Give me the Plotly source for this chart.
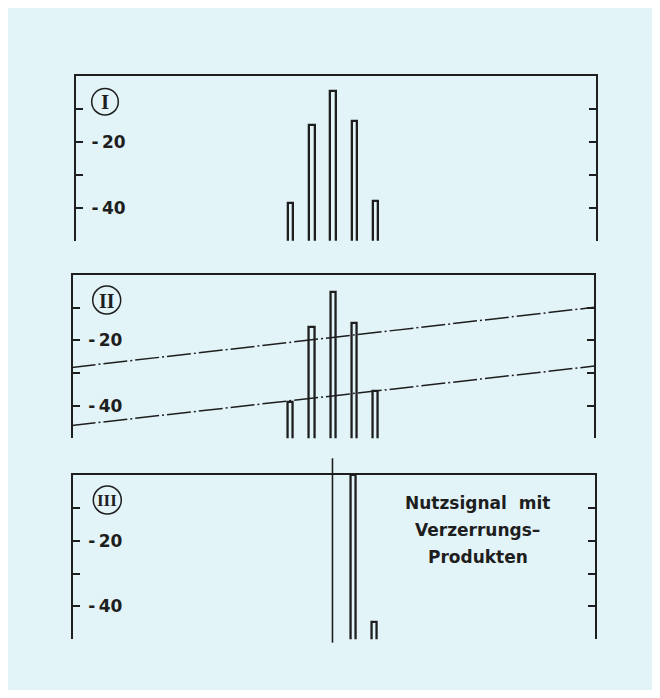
import plotly.graph_objects as go

# The page body adds an 8 px white margin on every side; the figure fills the rest.
OFF = 8
W, H = 660 - 2 * OFF, 698 - 2 * OFF
BG = "#e3f4f9"
INK = "#1e1e1e"

# ---------------- data ----------------
offsets_I = [-2, -1, 0, 1, 2]
levels_I = [-38.5, -15.0, -4.5, -13.7, -38.0]

offsets_II = [-2, -1, 0, 1, 2]
levels_II = [-38.8, -15.8, -5.1, -14.6, -35.5]

offsets_III = [1, 2]
levels_III = [0.0, -44.6]
carrier_III = 0

limit_x = [-12.3, 12.3]
limit_upper = [-28.3, -9.9]
limit_lower = [-46.1, -27.9]

tick_vals = [-10, -20, -30, -40, -50]
tick_text = ["", "-\u200920", "", "-\u200940", ""]
panel_labels = ["I", "II", "III"]
note_lines = ["Nutzsignal  mit", "Verzerrungs\u2013", "Produkten"]

BAR_BASE = -60  # below the visible range so the bars stay open at the bottom


def px_x(x):
    return (x - OFF) / W


def px_y(y):
    return 1 - (y - OFF) / H


# panel geometry in window pixels: (left, right, top, bottom, x-range)
panels = [
    (76.0, 596.0, 76.0, 240.7, [-12.18, 12.46]),
    (72.7, 594.3, 275.0, 438.3, [-12.25, 12.30]),
    (72.7, 595.0, 475.0, 639.3, [-12.37, 12.50]),
]

fig = go.Figure()

bar_sets = [(offsets_I, levels_I), (offsets_II, levels_II), (offsets_III, levels_III)]
for i, (xs, lv) in enumerate(bar_sets):
    n = "" if i == 0 else str(i + 1)
    fig.add_trace(go.Bar(
        x=xs, y=[v - BAR_BASE for v in lv], base=BAR_BASE,
        width=0.25, marker=dict(color=BG, line=dict(color=INK, width=2.3)),
        xaxis="x" + n, yaxis="y" + n, showlegend=False, hoverinfo="skip",
    ))

for ys in (limit_upper, limit_lower):
    fig.add_trace(go.Scatter(
        x=limit_x, y=ys, mode="lines",
        line=dict(color=INK, width=1.5, dash="24px,3px,2px,3px"),
        xaxis="x2", yaxis="y2", showlegend=False, hoverinfo="skip",
    ))

layout = dict(
    width=W, height=H, margin=dict(l=0, r=0, t=0, b=0),
    paper_bgcolor=BG, plot_bgcolor=BG, bargap=0, showlegend=False,
)

for i, (l, r, t, b, xr) in enumerate(panels):
    n = "" if i == 0 else str(i + 1)
    layout["xaxis" + n] = dict(
        domain=[px_x(l), px_x(r)], range=xr, side="top", anchor="y" + n,
        showline=True, linecolor=INK, linewidth=1.8, ticks="",
        showticklabels=False, showgrid=False, zeroline=False, fixedrange=True,
    )
    layout["yaxis" + n] = dict(
        domain=[px_y(b), px_y(t)], range=[-50, 0], anchor="x" + n,
        showline=True, linecolor=INK, linewidth=2, mirror="ticks",
        ticks="inside", ticklen=7, tickwidth=1.8, tickcolor=INK,
        tickvals=tick_vals, ticktext=tick_text, ticklabelposition="inside",
        ticklabelstandoff=9,
        tickfont=dict(family="DejaVu Sans", size=17, color=INK, weight="bold"),
        showgrid=False, zeroline=False, fixedrange=True,
    )

fig.update_layout(**layout)

# carrier marker line in panel III (extends past the frame)
fig.add_shape(type="line", xref="x3", yref="paper", x0=carrier_III, x1=carrier_III,
              y0=px_y(642.7), y1=px_y(458.3), line=dict(color=INK, width=1.6))

# circled roman numerals
circles = [(105.0, 101.7, 13.3), (106.7, 300.0, 14.0), (107.3, 500.0, 14.0)]
sizes = [21, 20, 17]
for (cx, cy, rr), lab, fs in zip(circles, panel_labels, sizes):
    fig.add_shape(type="circle", xref="paper", yref="paper",
                  x0=px_x(cx - rr), x1=px_x(cx + rr), y0=px_y(cy + rr), y1=px_y(cy - rr),
                  line=dict(color=INK, width=1.5))
    fig.add_annotation(x=px_x(cx), y=px_y(cy + 0.5), xref="paper", yref="paper",
                       text=lab, showarrow=False, xanchor="center", yanchor="middle",
                       font=dict(family="Liberation Serif", size=fs, color=INK, weight="bold"))

note_y = [503.3, 530.0, 557.3]
for txt, yy in zip(note_lines, note_y):
    fig.add_annotation(x=px_x(477.7), y=px_y(yy), xref="paper", yref="paper",
                       text=txt, showarrow=False, xanchor="center", yanchor="middle",
                       font=dict(family="DejaVu Sans", size=17, color=INK, weight="bold"))

fig.write_html("out.html")
